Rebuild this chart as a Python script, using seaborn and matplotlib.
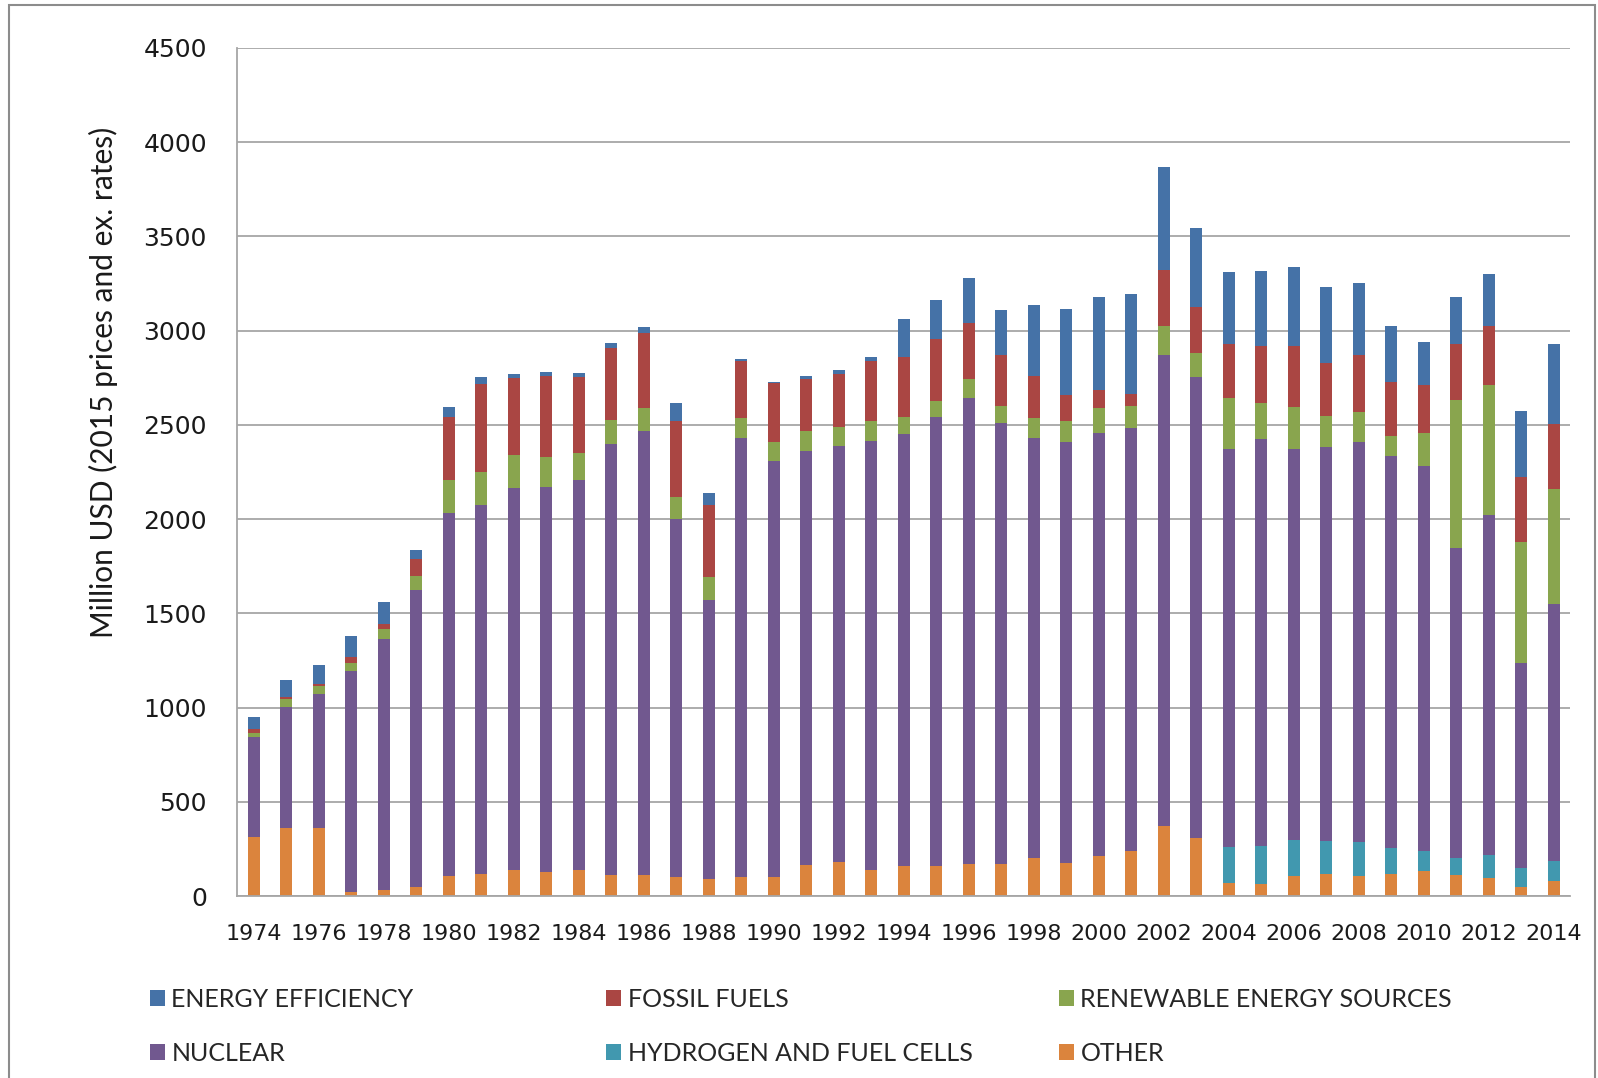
import numpy as np
import matplotlib
matplotlib.use("Agg")
import matplotlib.pyplot as plt
from matplotlib.patches import Patch, Rectangle
import seaborn as sns

# values (million USD), one entry per year 1974-2014
years = list(range(1974, 2015))
other = [313, 360, 360, 23, 30, 49, 106, 118, 140, 130, 136, 113, 113, 99, 92, 99, 99, 163, 182, 136,
         161, 161, 168, 168, 203, 177, 210, 239, 372, 308, 67, 64, 106, 118, 106, 118, 133, 111, 97, 50, 81]
hydrogen = [0] * 30 + [191, 201, 193, 176, 179, 135, 104, 91, 121, 97, 106]
nuclear = [529, 645, 710, 1171, 1332, 1575, 1929, 1959, 2026, 2043, 2072, 2283, 2352, 1900, 1479, 2330,
           2211, 2201, 2206, 2279, 2290, 2380, 2477, 2344, 2226, 2233, 2246, 2247, 2500, 2448, 2116, 2159,
           2075, 2087, 2125, 2084, 2047, 1643, 1802, 1091, 1361]
renewable = [22, 39, 46, 41, 54, 75, 173, 172, 173, 159, 143, 131, 125, 119, 124, 106, 100, 106, 100, 103,
             90, 88, 97, 90, 106, 108, 133, 116, 153, 124, 269, 193, 222, 167, 159, 106, 172, 789, 694, 643, 610]
fossil = [21, 12, 8, 35, 28, 88, 333, 470, 409, 430, 404, 382, 400, 400, 382, 303, 311, 272, 281, 320,
          318, 326, 296, 270, 227, 140, 97, 63, 298, 248, 285, 304, 325, 283, 302, 283, 256, 294, 311, 341, 345]
efficiency = [67, 90, 104, 110, 118, 51, 56, 37, 21, 21, 21, 26, 30, 97, 60, 9, 7, 20, 21, 21, 202, 208,
              244, 237, 375, 456, 492, 532, 548, 416, 382, 394, 416, 399, 383, 297, 228, 250, 278, 352, 425]

labels = ["OTHER", "HYDROGEN AND FUEL CELLS", "NUCLEAR", "RENEWABLE ENERGY SOURCES",
          "FOSSIL FUELS", "ENERGY EFFICIENCY"]
colors = ["#DB843D", "#4198AF", "#71588F", "#89A54E", "#AA4643", "#4572A7"]

sns.set_style("white")
narrow = ["Lato", "DejaVu Sans"]

fig = plt.figure(figsize=(15.98, 10.78), dpi=100)
ax = fig.add_axes([0.1486, 0.1688, 0.8339, 0.7867])

# stacked bars: draw cumulative totals from the top layer down
stack = np.cumsum([other, hydrogen, nuclear, renewable, fossil, efficiency], axis=0)
for i in reversed(range(len(labels))):
    sns.barplot(x=years, y=stack[i], color=colors[i], saturation=1, width=0.38,
                linewidth=0, errorbar=None, ax=ax)

ax.set_ylim(0, 4500)
ax.set_xlim(-0.5, len(years) - 0.5)
ax.set_yticks(range(0, 4501, 500))
ax.set_xticks(range(0, len(years), 2))
ax.set_xticklabels([str(y) for y in years[::2]])
ax.yaxis.grid(True, color="#a6a6a6", lw=1.3)
ax.set_axisbelow(True)
for s in ["top", "right"]:
    ax.spines[s].set_visible(False)
for s in ["left", "bottom"]:
    ax.spines[s].set_color("#a6a6a6")
    ax.spines[s].set_linewidth(1.3)
ax.tick_params(axis="y", length=6, width=1.3, color="#a6a6a6", pad=16, labelsize=18, labelcolor="#1a1a1a")
ax.tick_params(axis="x", length=0, pad=20, labelsize=16, labelcolor="#1a1a1a")

ax.set_ylabel("Million USD (2015 prices and ex. rates)", family=narrow, fontsize=21.5, color="#1a1a1a")
ax.yaxis.set_label_coords(-0.090, 0.606)

# legend, three columns of two rows
cols = [[5, 2], [4, 1], [3, 0]]
xs = [0.0939, 0.3795, 0.6628]
for col, x in zip(cols, xs):
    handles = [Patch(facecolor=colors[k], edgecolor="none", label=labels[k]) for k in col]
    fig.legend(handles=handles, loc="upper left", bbox_to_anchor=(x, 0.0835), frameon=False,
               prop={"family": narrow, "size": 18}, handlelength=0.6, handleheight=0.6,
               handletextpad=0.25, labelspacing=1.25, borderpad=0, borderaxespad=0)

fig.add_artist(Rectangle((9 / 1598, -0.01), (1595 - 9) / 1598, 1.01 - 5 / 1078, transform=fig.transFigure,
                         fill=False, edgecolor="#8c8c8c", lw=1.5))

fig.savefig("out.png", dpi=100)
